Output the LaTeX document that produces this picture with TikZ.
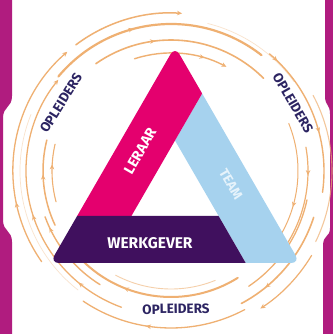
\documentclass[tikz,border=0pt]{standalone}
\usepackage{fontspec}
\setmainfont{Fira Sans}
\usetikzlibrary{decorations.markings,arrows.meta}
\definecolor{barcol}{HTML}{B01C7F}
\definecolor{lercol}{HTML}{E4006E}
\definecolor{teamcol}{HTML}{A6D2EE}
\definecolor{werkcol}{HTML}{40105E}
\definecolor{arccol}{HTML}{EFB072}
\definecolor{oplcol}{HTML}{2C2462}
\definecolor{teamtxt}{HTML}{E6F3FB}
\newcommand\orb[5]{\draw[arcline, line width=#4, #5] ([shift={(#2:#1)}]C) arc[start angle=#2, end angle=#3, radius=#1];}
\tikzset{
  arcline/.style={draw=arccol, color=arccol, line cap=round},
  am/.style={postaction={decorate, decoration={markings, mark=at position #1 with {\arrow{Stealth[length=5pt,width=4.5pt]}}}}},
  et/.style={-{Stealth[length=5pt,width=4.5pt]}},
  bandtxt/.style={text=white, font=\bfseries\fontsize{14.5}{14.5}\selectfont, inner sep=0pt},
  opl/.style={text=oplcol, font=\bfseries\fontsize{13.5}{13.5}\selectfont, inner sep=0pt}
}
\begin{document}
\begin{tikzpicture}[x=1pt,y=1pt]
\useasboundingbox (0,0) rectangle (332,334);
\fill[white] (0,0) rectangle (332,334);
% side bars
\fill[barcol] (-1,334) -- (12,334) -- (12,238) .. controls (12,226) and (3,228) .. (3,216) -- (3,114) .. controls (3,102) and (12,104) .. (12,92) -- (12,0) -- (-1,0) -- cycle;
\fill[barcol] (333,334) -- (325,334) -- (325,238) .. controls (325,228) and (330,230) .. (330,220) -- (330,106) .. controls (330,96) and (323,100) .. (323,88) -- (323,0) -- (333,0) -- cycle;
\coordinate (C) at (171,163);
% arcs (clockwise)
\orb{158}{127}{86}{1.5pt}{et}
\orb{158}{215}{131}{1.3pt}{et, am=0.28}
\orb{147}{140}{52}{2.2pt}{am=0.4}
\orb{131}{125}{45}{1.6pt}{am=0.35}
\orb{118}{108}{62}{1.4pt}{am=0.75, et}
\orb{152}{76}{36}{0.7pt}{opacity=0.35}
\orb{153}{50}{-8}{1.4pt}{am=0.07, am=0.61}
\orb{137}{10}{-32}{1.2pt}{am=0.28}
\orb{127}{22}{-38}{1.0pt}{am=0.64}
\orb{161}{28}{-26}{1.1pt}{opacity=0.7}
\orb{164}{-31}{-57}{1.2pt}{et}
\orb{150}{-18}{-62}{1.6pt}{am=0.75}
\orb{139}{-12}{-56}{1.3pt}{}
\orb{126}{-58}{-135}{2.0pt}{am=0.7}
\orb{118}{-68}{-118}{0.9pt}{opacity=0.6}
\orb{157}{-62}{-124}{1.3pt}{am=0.6}
\orb{145}{250}{141}{1.3pt}{am=0.18, am=0.48, et}
\orb{128}{205}{166}{1.5pt}{am=0.6}
\orb{119}{195}{167}{1.1pt}{am=0.65}
\orb{134}{238}{200}{1.4pt}{am=0.87}
\orb{151}{232}{158}{0.7pt}{opacity=0.35}
% triangle
\begin{scope}
\clip[rounded corners=9pt] (50,71) -- (300,71) -- (175,287.5) -- cycle;
\fill[teamcol] (175,193.5) -- (275,366.7) -- (500,366.7) -- (500,-100) -- (345,-100.4) -- cycle;
\fill[lercol] (131.4,118) -- (281.4,377.8) -- (-100,377.8) -- (-100,118) -- cycle;
\fill[werkcol] (-100,118) -- (218.6,118) -- (286.7,0) -- (-100,0) -- cycle;
\end{scope}
\node[bandtxt, rotate=60] (ler) at (140,183) {LERAAR};
\node[bandtxt, text=teamtxt, font=\bfseries\fontsize{13.5}{13.5}\selectfont, rotate=-60] (team) at (231,150) {TEAM};
\node[bandtxt, font=\bfseries\fontsize{15.5}{15.5}\selectfont] (werk) at (150,91) {WERKGEVER};
% labels
\node[opl, rotate=58] (opl1) at (61,231) {OPLEIDERS};
\node[opl, rotate=-60] (opl2) at (293,231) {OPLEIDERS};
\node[opl, rotate=1] (opl3) at (176,25) {OPLEIDERS};
\end{tikzpicture}
\end{document}
